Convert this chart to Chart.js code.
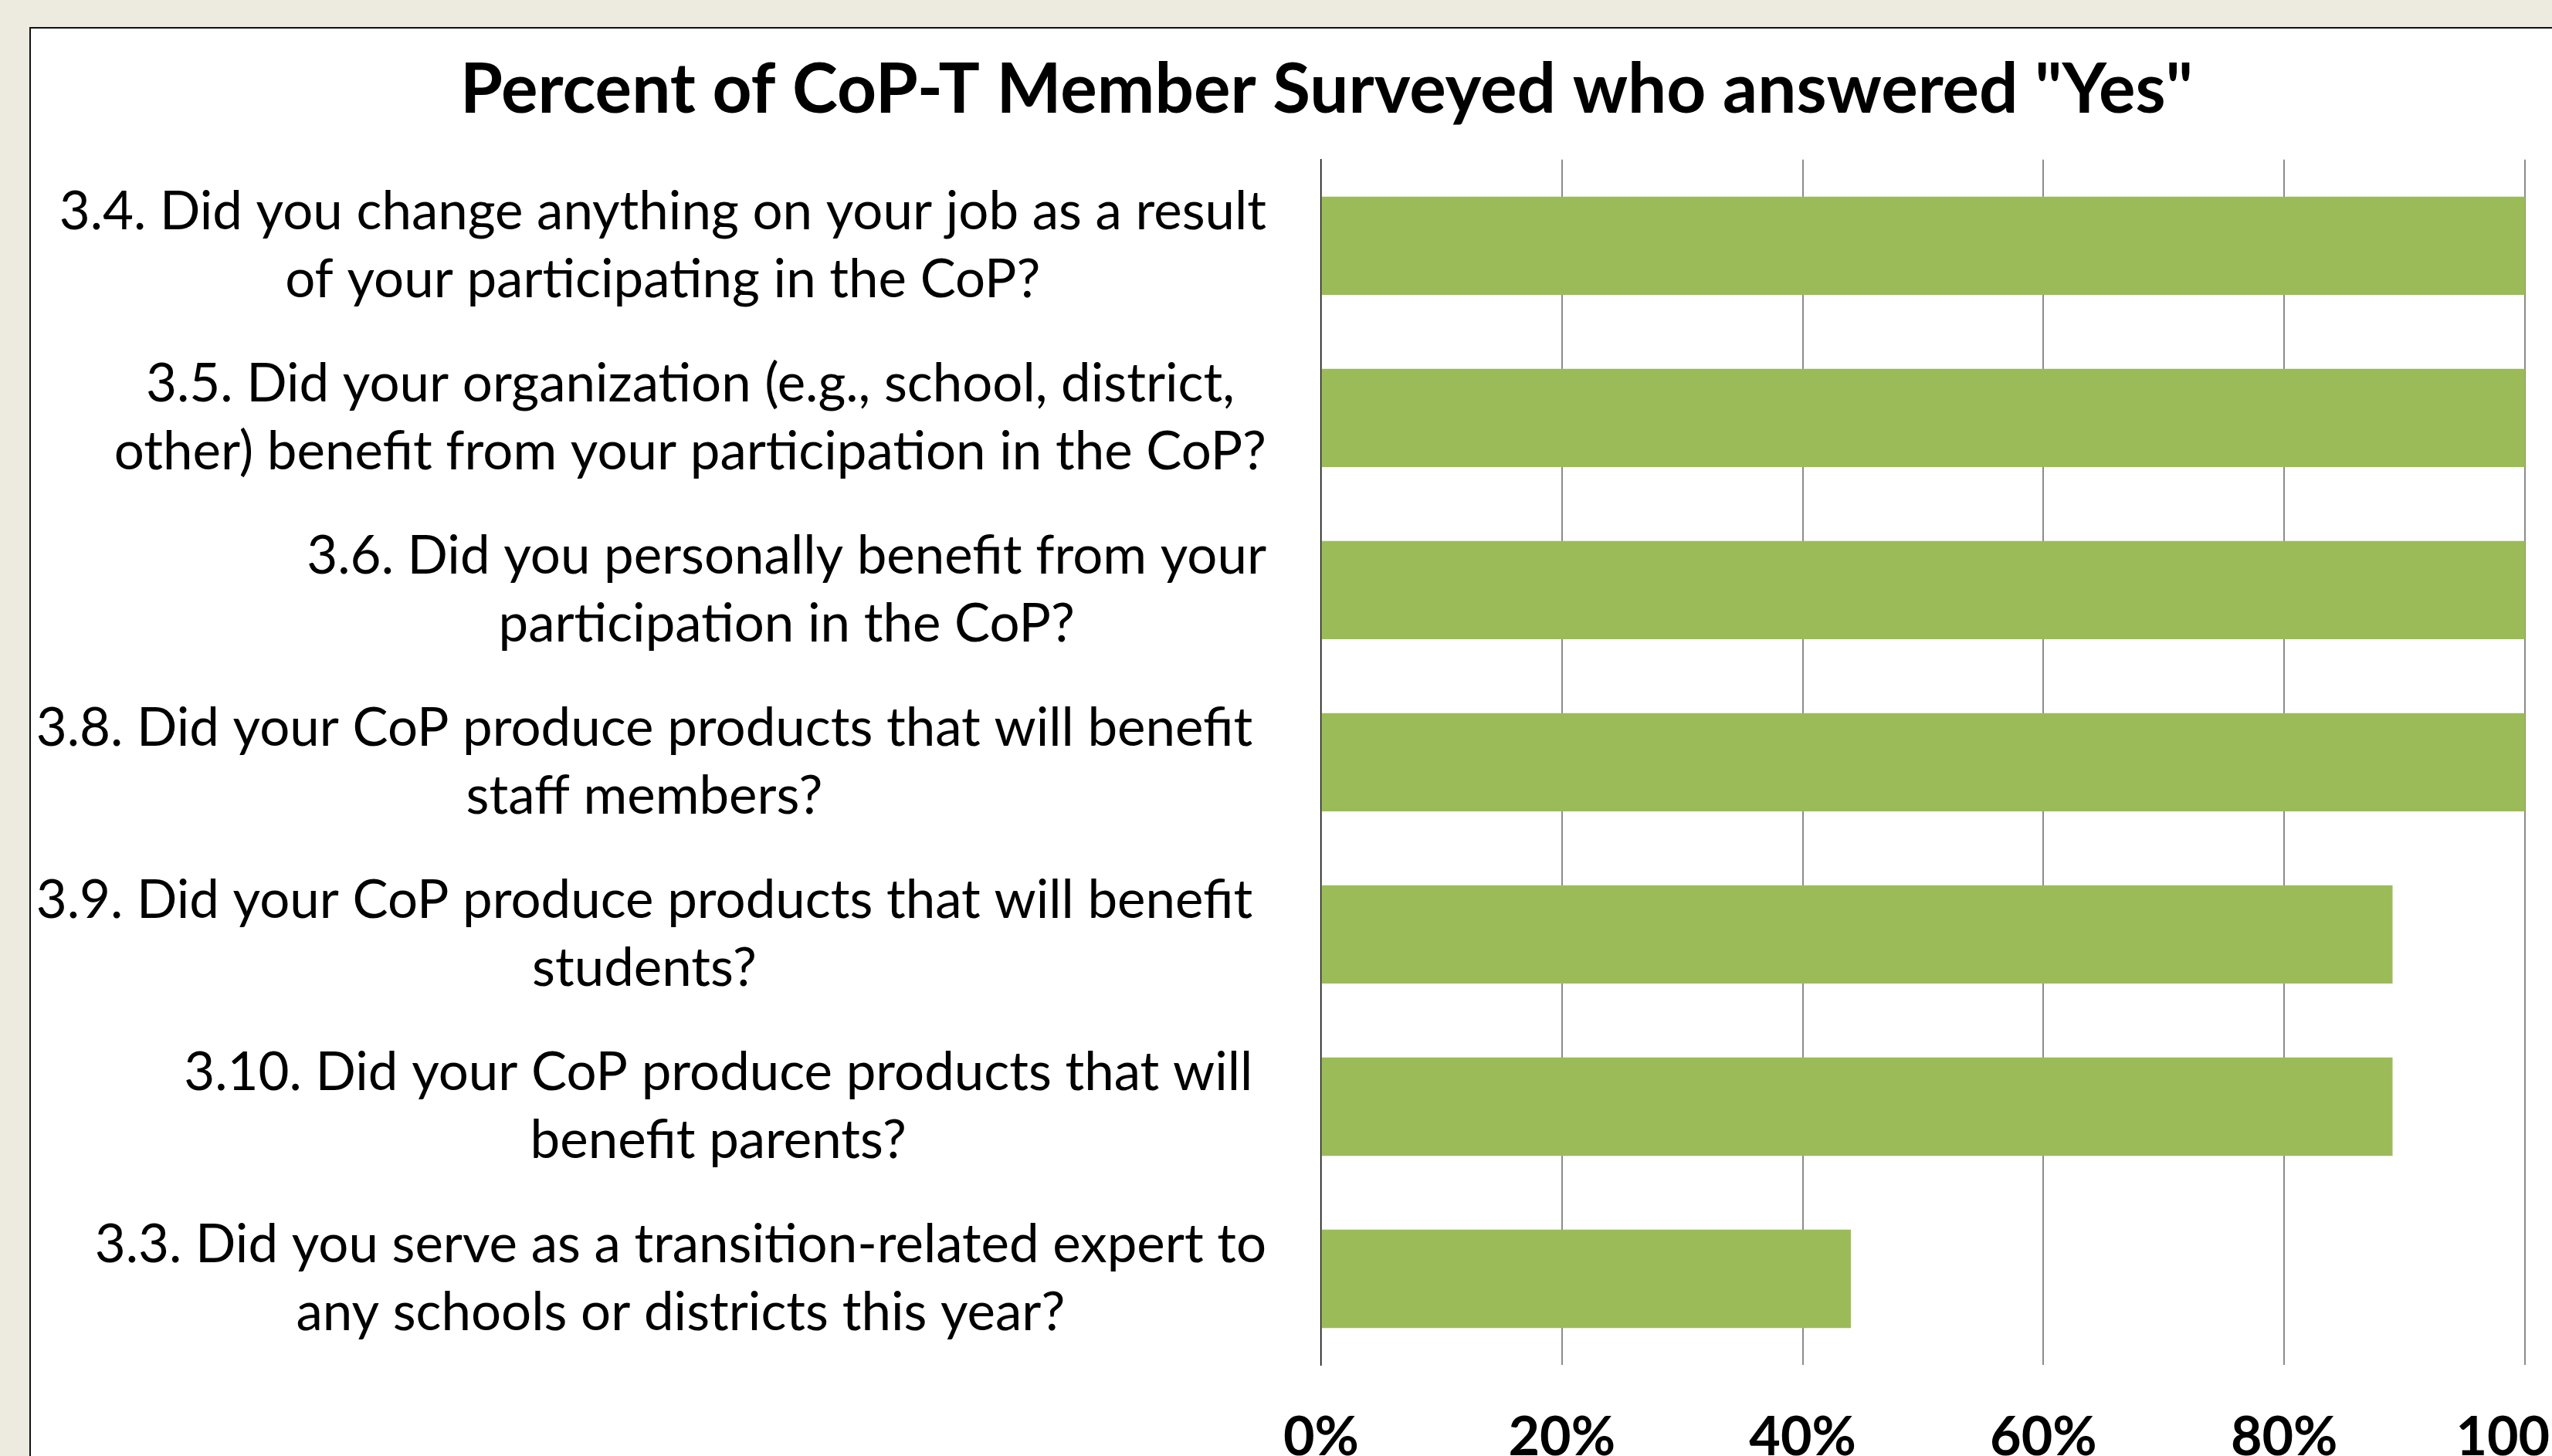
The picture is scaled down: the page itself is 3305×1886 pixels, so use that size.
<!DOCTYPE html>
<html lang="en">
<head>
  <meta charset="UTF-8" />
  <title>Percent of CoP-T Member Surveyed who answered "Yes"</title>
  <script src="https://cdn.jsdelivr.net/npm/chart.js"></script>
  <style>
    html, body {
      margin: 0;
      padding: 0;
      width: 3305px;
      height: 1886px;
      overflow: hidden;
      background: #edebe0;
    }
    .panel {
      position: absolute;
      left: 38px;
      top: 35px;
      width: 4000px;
      height: 3000px;
      background: #fff;
      border: 2px solid #111;
    }
    canvas {
      position: absolute;
      left: 0;
      top: 0;
    }
  </style>
</head>
<body>
  <div class="panel"></div>
  <canvas id="yesChart" width="3305" height="1886"></canvas>

  <script>
    const chartTitle = 'Percent of CoP-T Member Surveyed who answered "Yes"';

    // each question is wrapped the same way as in the original slide
    const questionLabels = [
      ["3.4. Did you change anything on your job as a result", "of your participating in the CoP?"],
      ["3.5. Did your organization (e.g., school, district,", "other) benefit from your participation in the CoP?"],
      ["3.6. Did you personally benefit from your", "participation in the CoP?"],
      ["3.8. Did your CoP produce products that will benefit ", "staff members?"],
      ["3.9. Did your CoP produce products that will benefit ", "students?"],
      ["3.10. Did your CoP produce products that will ", "benefit parents?"],
      ["3.3. Did you serve as a transition-related expert to", "any schools or districts this year?"]
    ];
    const yesPercent = [100, 100, 100, 100, 89, 89, 44];
    const percentTicks = [0, 20, 40, 60, 80, 100];

    Chart.defaults.font.family = "Lato, 'Open Sans', sans-serif";
    Chart.defaults.color = "#000";

    // Excel-style category labels: block right-aligned to the axis, lines centred in the block
    const wrappedLabels = {
      id: "wrappedLabels",
      afterDraw(chart) {
        const { ctx, chartArea, scales } = chart;
        const y = scales.y;
        ctx.save();
        ctx.font = "69px Lato, 'Open Sans', sans-serif";
        ctx.fillStyle = "#000";
        ctx.textAlign = "center";
        ctx.textBaseline = "middle";
        const right = chartArea.left - 71;
        const lineGap = 88;
        questionLabels.forEach((lines, i) => {
          const yc = y.getPixelForValue(i);
          const full = lines.map(l => ctx.measureText(l).width);
          const trimmed = lines.map(l => ctx.measureText(l.trimEnd()).width);
          const widest = full.indexOf(Math.max(...full));
          const blockRight = right - (full[widest] - trimmed[widest]);
          const centre = blockRight - Math.max(...trimmed) / 2;
          const top = yc - (lines.length - 1) * lineGap / 2;
          lines.forEach((l, j) => ctx.fillText(l.trimEnd(), centre, top + j * lineGap));
        });
        ctx.restore();
      }
    };

    new Chart(document.getElementById("yesChart"), {
      type: "bar",
      data: {
        labels: questionLabels.map(l => l.join(" ")),
        datasets: [{
          label: "Yes",
          data: yesPercent,
          backgroundColor: "#9bbb59",
          borderWidth: 0,
          categoryPercentage: 1,
          barPercentage: 0.571
        }]
      },
      options: {
        indexAxis: "y",
        responsive: false,
        animation: false,
        devicePixelRatio: 1,
        layout: { padding: { left: 166, right: 35, top: 0, bottom: 0 } },
        scales: {
          x: {
            min: percentTicks[0],
            max: percentTicks[percentTicks.length - 1],
            afterBuildTicks: s => { s.ticks = percentTicks.map(v => ({ value: v })); },
            afterFit: s => { s.height = 118; s.paddingLeft = 0; s.paddingRight = 0; },
            border: { display: false },
            grid: {
              drawTicks: false,
              color: c => (c.tick && c.tick.value === 0 ? "rgba(0,0,0,0)" : "#8c8c8c"),
              lineWidth: 2
            },
            ticks: {
              padding: 52,
              maxRotation: 0,
              font: { size: 70, weight: "bold" },
              callback: v => v + "%"
            }
          },
          y: {
            afterFit: s => { s.width = 1545; s.paddingTop = 0; s.paddingBottom = 0; },
            grid: { display: false, drawTicks: false },
            border: { display: true, color: "#000", width: 1.5 },
            ticks: { display: false }
          }
        },
        plugins: {
          legend: { display: false },
          tooltip: { enabled: false },
          title: {
            display: true,
            text: chartTitle,
            font: { size: 89, weight: "bold" },
            color: "#000",
            padding: { top: 64, bottom: 36 }
          }
        }
      },
      plugins: [wrappedLabels]
    });
  </script>
</body>
</html>
